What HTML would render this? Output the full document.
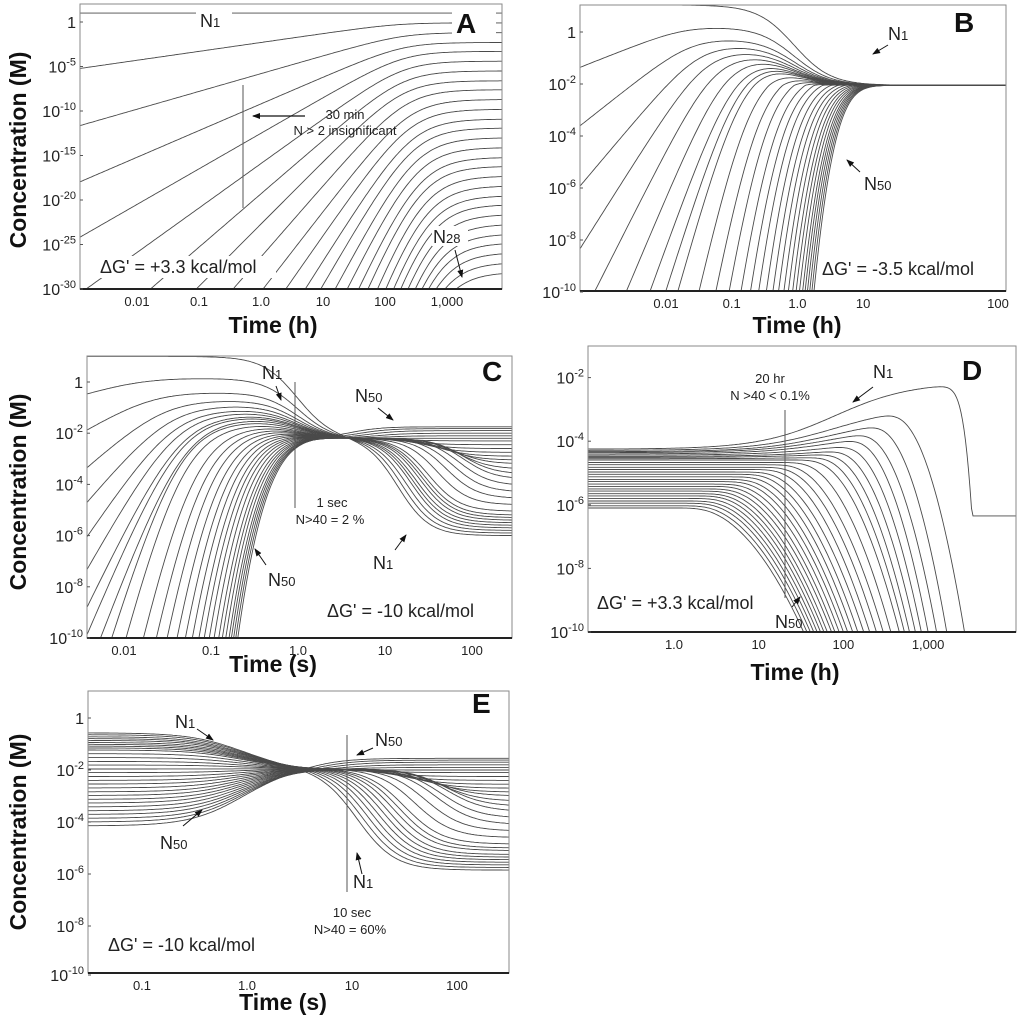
<!DOCTYPE html>
<html><head><meta charset="utf-8">
<style>
html,body{margin:0;padding:0;background:#fff;}
svg{display:block;font-family:"Liberation Sans",Arial,sans-serif;}
.tl{font-size:16px;fill:#222;}
.xl{font-size:13px;fill:#222;}
.ttl{font-size:23px;font-weight:bold;fill:#111;}
.ann{font-size:13px;fill:#222;}
.big{font-size:18px;fill:#222;}
.lt{font-size:28px;font-weight:bold;fill:#111;}
.nl{font-size:18px;fill:#222;}
</style></head>
<body>
<svg id="fig" width="1024" height="1024" viewBox="0 0 1024 1024" xmlns="http://www.w3.org/2000/svg">
<defs>
<marker id="ah" markerWidth="8" markerHeight="8" refX="7" refY="4" orient="auto" markerUnits="userSpaceOnUse"><path d="M0,1 L8,4 L0,7 Z" fill="#111"/></marker>
<clipPath id="clipA"><rect x="80" y="4" width="422" height="285"/></clipPath>
<clipPath id="clipB"><rect x="580" y="5" width="426" height="286"/></clipPath>
<clipPath id="clipC"><rect x="87" y="356" width="425" height="282"/></clipPath>
<clipPath id="clipD"><rect x="588" y="346" width="428" height="286"/></clipPath>
<clipPath id="clipE"><rect x="88" y="691" width="421" height="282"/></clipPath>
</defs>
<rect width="1024" height="1024" fill="#fff"/>
<g id="curvesA" clip-path="url(#clipA)"></g>
<g id="curvesB" clip-path="url(#clipB)"></g>
<g id="curvesC" clip-path="url(#clipC)"></g>
<g id="curvesD" clip-path="url(#clipD)"></g>
<g id="curvesE" clip-path="url(#clipE)"></g>
<g id="axes"></g>

<g>
<rect x="196" y="6" width="36" height="22" fill="#fff"/>
<text class="nl" x="200" y="27">N<tspan font-size="13">1</tspan></text>
<rect x="452" y="8" width="44" height="30" fill="#fff"/>
<text class="lt" x="456" y="33">A</text>
<line x1="243" y1="85" x2="243" y2="208" stroke="#555" stroke-width="1"/>
<line x1="305" y1="116" x2="253" y2="116" stroke="#111" stroke-width="1.2" marker-end="url(#ah)"/>
<text class="ann" x="345" y="119" text-anchor="middle">30 min</text>
<text class="ann" x="345" y="135" text-anchor="middle">N &gt; 2 insignificant</text>
<rect x="98" y="256" width="178" height="22" fill="#fff"/>
<text class="big" x="100" y="273">ΔG' = +3.3 kcal/mol</text>
<rect x="432" y="226" width="36" height="20" fill="#fff"/>
<text class="nl" x="433" y="243">N<tspan font-size="13">28</tspan></text>
<line x1="455" y1="250" x2="462" y2="277" stroke="#111" stroke-width="1" marker-end="url(#ah)"/>
<text class="ttl" x="273" y="333" text-anchor="middle">Time (h)</text>
<text class="ttl" transform="translate(26,150) rotate(-90)" text-anchor="middle">Concentration (M)</text>
</g>

<g>
<text class="lt" x="954" y="32">B</text>
<text class="nl" x="888" y="40">N<tspan font-size="13">1</tspan></text>
<line x1="888" y1="45" x2="873" y2="54" stroke="#111" stroke-width="1" marker-end="url(#ah)"/>
<text class="nl" x="864" y="190">N<tspan font-size="13">50</tspan></text>
<line x1="860" y1="172" x2="847" y2="160" stroke="#111" stroke-width="1" marker-end="url(#ah)"/>
<text class="big" x="822" y="275">ΔG' = -3.5 kcal/mol</text>
<text class="ttl" x="797" y="333" text-anchor="middle">Time (h)</text>
</g>

<g>
<text class="lt" x="482" y="381">C</text>
<text class="nl" x="262" y="379">N<tspan font-size="13">1</tspan></text>
<line x1="276" y1="386" x2="281" y2="400" stroke="#111" stroke-width="1" marker-end="url(#ah)"/>
<line x1="295" y1="382" x2="295" y2="508" stroke="#555" stroke-width="1"/>
<text class="ann" x="332" y="507" text-anchor="middle">1 sec</text>
<text class="ann" x="330" y="524" text-anchor="middle">N&gt;40 = 2 %</text>
<text class="nl" x="355" y="402">N<tspan font-size="13">50</tspan></text>
<line x1="378" y1="408" x2="393" y2="420" stroke="#111" stroke-width="1" marker-end="url(#ah)"/>
<text class="nl" x="373" y="569">N<tspan font-size="13">1</tspan></text>
<line x1="395" y1="550" x2="406" y2="535" stroke="#111" stroke-width="1" marker-end="url(#ah)"/>
<text class="nl" x="268" y="586">N<tspan font-size="13">50</tspan></text>
<line x1="266" y1="565" x2="255" y2="549" stroke="#111" stroke-width="1" marker-end="url(#ah)"/>
<text class="big" x="327" y="617">ΔG' = -10 kcal/mol</text>
<text class="ttl" x="273" y="672" text-anchor="middle">Time (s)</text>
<text class="ttl" transform="translate(26,492) rotate(-90)" text-anchor="middle">Concentration (M)</text>
</g>

<g>
<rect x="958" y="354" width="40" height="30" fill="#fff"/>
<text class="lt" x="962" y="380">D</text>
<text class="ann" x="770" y="383" text-anchor="middle">20 hr</text>
<text class="ann" x="770" y="400" text-anchor="middle">N &gt;40 &lt; 0.1%</text>
<line x1="785" y1="410" x2="785" y2="598" stroke="#555" stroke-width="1"/>
<text class="nl" x="873" y="378">N<tspan font-size="13">1</tspan></text>
<line x1="873" y1="387" x2="853" y2="402" stroke="#111" stroke-width="1" marker-end="url(#ah)"/>
<text class="big" x="597" y="609">ΔG' = +3.3 kcal/mol</text>
<text class="nl" x="775" y="628">N<tspan font-size="13">50</tspan></text>
<line x1="792" y1="607" x2="800" y2="597" stroke="#111" stroke-width="1" marker-end="url(#ah)"/>
<text class="ttl" x="795" y="680" text-anchor="middle">Time (h)</text>
</g>

<g>
<text class="lt" x="472" y="713">E</text>
<text class="nl" x="175" y="728">N<tspan font-size="13">1</tspan></text>
<line x1="197" y1="729" x2="213" y2="740" stroke="#111" stroke-width="1" marker-end="url(#ah)"/>
<text class="nl" x="160" y="849">N<tspan font-size="13">50</tspan></text>
<line x1="183" y1="826" x2="202" y2="810" stroke="#111" stroke-width="1" marker-end="url(#ah)"/>
<line x1="347" y1="735" x2="347" y2="892" stroke="#555" stroke-width="1"/>
<text class="nl" x="375" y="746">N<tspan font-size="13">50</tspan></text>
<line x1="373" y1="748" x2="357" y2="755" stroke="#111" stroke-width="1" marker-end="url(#ah)"/>
<text class="nl" x="353" y="888">N<tspan font-size="13">1</tspan></text>
<line x1="362" y1="874" x2="357" y2="853" stroke="#111" stroke-width="1" marker-end="url(#ah)"/>
<text class="ann" x="352" y="917" text-anchor="middle">10 sec</text>
<text class="ann" x="350" y="934" text-anchor="middle">N&gt;40 = 60%</text>
<text class="big" x="108" y="951">ΔG' = -10 kcal/mol</text>
<text class="ttl" x="283" y="1010" text-anchor="middle">Time (s)</text>
<text class="ttl" transform="translate(26,832) rotate(-90)" text-anchor="middle">Concentration (M)</text>
</g>
</svg>

<script>
// ---------- tick data ----------
const aYTicks = [0,-5,-10,-15,-20,-25,-30];
const aXTicks = [-2,-1,0,1,2,3];
const aXLabels = ['0.01','0.1','1.0','10','100','1,000'];
const bYTicks = [0,-2,-4,-6,-8,-10];
const bXTicks = [-2,-1,0,1];
const bXLabels = ['0.01','0.1','1.0','10'];
const cYTicks = [0,-2,-4,-6,-8,-10];
const cXTicks = [-2,-1,0,1,2];
const cXLabels = ['0.01','0.1','1.0','10','100'];
const dYTicks = [-2,-4,-6,-8,-10];
const dXTicks = [0,1,2,3];
const dXLabels = ['1.0','10','100','1,000'];
const eYTicks = [0,-2,-4,-6,-8,-10];
const eXTicks = [-1,0,1,2];
const eXLabels = ['0.1','1.0','10','100'];

// ---------- panel A series (log10 M) ----------
const aOrder = [1,2,3,4,5,6,7,8,9,10,11,12,13,14,15,16,17,18,19,20,21,22,23,24,25,26,27,28];
const aPlateau = [1.0,-0.1,-1.2,-2.3,-3.3,-4.4,-5.5,-6.6,-7.6,-8.7,-9.8,-10.9,-11.9,-13.0,-14.1,-15.2,-16.2,-17.3,-18.4,-19.5,-20.5,-21.6,-22.7,-23.8,-24.8,-25.9,-27.0,-28.1];
const aKnee = [2.3,2.2,2.3,2.3,2.3,2.3,2.3,2.3,2.35,2.4,2.42,2.45,2.47,2.5,2.52,2.55,2.57,2.6,2.62,2.64,2.66,2.68,2.7,2.71,2.72,2.73,2.74,2.75];

// ---------- panel B ----------
const bOrder = [1,2,3,4,5,6,7,8,9,10,12,14,16,18,20,22,24,26,28,30,32,34,36,38,40,42,44,46,48,50];
const bPeak = [1.04,0.2,-0.25,-0.5,-0.7,-0.85,-0.95,-1.05,-1.12,-1.2,-1.3,-1.4,-1.48,-1.55,-1.6,-1.65,-1.7,-1.74,-1.78,-1.82,-1.85,-1.88,-1.91,-1.94,-1.96,-1.98,-2.0,-2.02,-2.04,-2.05];
const bKnee = [-3,-1.75,-1.63,-1.5,-1.4,-1.26,-1.1,-0.97,-0.9,-0.85,-0.72,-0.6,-0.5,-0.4,-0.32,-0.25,-0.18,-0.12,-0.07,-0.02,0.02,0.06,0.09,0.12,0.15,0.17,0.19,0.21,0.23,0.25];
const bFinal = -2.05;

// ---------- panel C ----------
const cOrder = [1,2,3,4,5,6,7,8,9,10,12,14,16,18,20,22,24,26,28,30,32,34,36,38,40,42,44,46,48,50];
const cPeak = [1.0,0.15,-0.4,-0.7,-0.9,-1.05,-1.15,-1.25,-1.32,-1.4,-1.5,-1.6,-1.67,-1.73,-1.78,-1.83,-1.87,-1.91,-1.95,-1.98,-2.01,-2.04,-2.07,-2.1,-2.12,-2.14,-2.16,-2.18,-2.19,-2.2];
const cKnee = [-3,-1.83,-1.7,-1.55,-1.48,-1.43,-1.4,-1.35,-1.36,-1.32,-1.38,-1.35,-1.25,-1.18,-1.12,-1.06,-1.01,-0.97,-0.93,-0.9,-0.87,-0.84,-0.81,-0.79,-0.77,-0.75,-0.74,-0.73,-0.72,-0.71];
const cEnd = [-6.0,-5.9,-5.8,-5.7,-5.6,-5.5,-5.4,-5.3,-5.2,-5.05,-4.8,-4.55,-4.3,-4.05,-3.8,-3.6,-3.4,-3.2,-3.05,-2.9,-2.75,-2.6,-2.45,-2.3,-2.2,-2.1,-2.0,-1.9,-1.82,-1.75];
const cShift = [1.15,1.2,1.25,1.3,1.33,1.36,1.4,1.43,1.46,1.5,1.6,1.7,1.78,1.85,1.9,1.9,1.85,1.8,1.7,1.6,1.5,1.4,1.3,1.2,1.1,1.0,0.9,0.8,0.7,0.6];
const cCross = -2.2;

// ---------- panel D ----------
const dOrder = [1,2,3,4,5,6,7,8,9,10,12,14,16,18,20,22,24,26,28,30,32,34,36,38,40,42,44,46,48,50];
const dStart = [-4.25,-4.29,-4.33,-4.36,-4.4,-4.44,-4.48,-4.51,-4.55,-4.59,-4.67,-4.74,-4.82,-4.89,-4.97,-5.04,-5.12,-5.2,-5.27,-5.35,-5.42,-5.5,-5.57,-5.65,-5.72,-5.8,-5.88,-5.95,-6.03,-6.1];
const dPeak = [-2.15,-2.9,-3.25,-3.5,-3.7,-3.95,-4.15,-4.3,-4.45,-4.59,-4.67,-4.74,-4.82,-4.89,-4.97,-5.04,-5.12,-5.2,-5.27,-5.35,-5.42,-5.5,-5.57,-5.65,-5.72,-5.8,-5.88,-5.95,-6.03,-6.1];
const dOnset = [3.38,2.55,2.35,2.2,2.1,2.0,1.9,1.8,1.7,1.6,1.45,1.3,1.2,1.1,1.0,0.92,0.85,0.78,0.72,0.66,0.6,0.55,0.5,0.46,0.42,0.38,0.34,0.3,0.25,0.2];
const dBottom = [3.6,3.43,3.22,3.1,3.0,2.92,2.85,2.78,2.72,2.66,2.56,2.47,2.39,2.31,2.24,2.17,2.11,2.05,2.0,1.95,1.9,1.86,1.81,1.77,1.73,1.69,1.65,1.61,1.57,1.53];
const dFloor = [-6.35,-14,-14,-14,-14,-14,-14,-14,-14,-14,-14,-14,-14,-14,-14,-14,-14,-14,-14,-14,-14,-14,-14,-14,-14,-14,-14,-14,-14,-14];

// ---------- panel E ----------
const eOrder = [1,2,3,4,5,6,7,8,9,10,12,14,16,18,20,22,24,26,28,30,32,34,36,38,40,42,44,46,48,50];
const eStart = [-0.57,-0.64,-0.72,-0.79,-0.86,-0.94,-1.01,-1.08,-1.15,-1.23,-1.37,-1.52,-1.67,-1.81,-1.96,-2.1,-2.25,-2.4,-2.54,-2.69,-2.84,-2.98,-3.13,-3.27,-3.42,-3.57,-3.71,-3.86,-4.0,-4.15];
const eEnd = [-5.85,-5.75,-5.65,-5.55,-5.45,-5.35,-5.25,-5.1,-5.0,-4.85,-4.6,-4.35,-4.1,-3.85,-3.6,-3.4,-3.2,-3.0,-2.85,-2.7,-2.55,-2.4,-2.25,-2.1,-2.0,-1.9,-1.8,-1.7,-1.62,-1.55];
const eShift = [1.05,1.1,1.15,1.2,1.25,1.3,1.35,1.4,1.45,1.5,1.6,1.7,1.8,1.85,1.9,1.9,1.85,1.8,1.7,1.6,1.5,1.4,1.3,1.2,1.1,1.0,0.9,0.8,0.7,0.6];
const eCross = -1.95;

// ---------- helpers ----------
const NS = 'http://www.w3.org/2000/svg';
function sp(x,w){ const r=x/w; return r>30? x : w*Math.log1p(Math.exp(r)); }
function sig(x){ return 1/(1+Math.exp(-x)); }

const panels = {
  A:{x0:80,x1:502,y0:4,y1:289, xRef:-2,xPx:137,xs:62, yPx:22,ys:8.9},
  B:{x0:580,x1:1006,y0:5,y1:291, xRef:-2,xPx:666,xs:65.7, yPx:32,ys:26},
  C:{x0:87,x1:512,y0:356,y1:638, xRef:-2,xPx:124,xs:87, yPx:382,ys:25.6},
  D:{x0:588,x1:1016,y0:346,y1:632, xRef:0,xPx:674,xs:84.7, yPx:314,ys:31.8},
  E:{x0:88,x1:509,y0:691,y1:973, xRef:0,xPx:247,xs:105, yPx:718,ys:26}
};
function X(p,lt){ return p.xPx + (lt-p.xRef)*p.xs; }
function Y(p,lc){ return p.yPx - lc*p.ys; }
function invX(p,px){ return p.xRef + (px-p.xPx)/p.xs; }

function drawCurve(gid, p, fn){
  let d='';
  for(let px=p.x0-2; px<=p.x1+2; px+=1.5){
    const lt=invX(p,px);
    let y=Y(p,fn(lt));
    if(y>p.y1+30) y=p.y1+30;
    if(y<p.y0-30) y=p.y0-30;
    d += (d?'L':'M')+px.toFixed(1)+','+y.toFixed(1);
  }
  const path=document.createElementNS(NS,'path');
  path.setAttribute('d',d);
  path.setAttribute('fill','none');
  path.setAttribute('stroke','#4a4a4a');
  path.setAttribute('stroke-width','0.9');
  
  
  document.getElementById(gid).appendChild(path);
}

// Panel A
aOrder.forEach((n,i)=>{
  drawCurve('curvesA', panels.A, lt => aPlateau[i] - (n-1)*sp(aKnee[i]-lt,0.3));
});
// Panel B
bOrder.forEach((n,i)=>{
  drawCurve('curvesB', panels.B, lt => {
    const L = bPeak[i] - (n-1)*sp(bKnee[i]-lt,0.25);
    const dev = L-bFinal;
    const g = dev>0 ? 1/(1+Math.exp((lt+0.05)/0.28)) : 1/(1+Math.exp((lt-0.8)/0.2));
    return bFinal + dev*g;
  });
});
// Panel C
cOrder.forEach((n,i)=>{
  drawCurve('curvesC', panels.C, lt => {
    const L = cPeak[i] - (n-1)*sp(cKnee[i]-lt,0.25);
    const g = 1/(1+Math.exp((lt+0.01)/0.2));
    const post = (cEnd[i]-cCross)*sig((lt-cShift[i])/0.18);
    return cCross + (L-cCross)*g + post;
  });
});
// Panel D
dOrder.forEach((n,i)=>{
  const U = lt => dStart[i] + (dPeak[i]-dStart[i])*sig((lt-1.9)/0.45);
  const span = dBottom[i]-dOnset[i];
  const A = (U(dBottom[i])+10)/(span*span);
  drawCurve('curvesD', panels.D, lt => {
    const s = sp(lt-dOnset[i],0.1);
    const v = U(lt) - A*s*s;
    return dFloor[i] + sp(v-dFloor[i],0.12);
  });
});
// Panel E
eOrder.forEach((n,i)=>{
  drawCurve('curvesE', panels.E, lt => {
    const g = 1/(1+Math.exp((lt+0.05)/0.25));
    const post = (eEnd[i]-eCross)*sig((lt-eShift[i])/0.18);
    return eCross + (eStart[i]-eCross)*g + post;
  });
});

// ---------- axes ----------
const axes = document.getElementById('axes');
function yLabel(v){ return v===0 ? '1' : '10<tspan font-size="11" dy="-7">'+v+'</tspan>'; }
function buildAxes(key, yT, xT, xL){
  const p = panels[key];
  const box=document.createElementNS(NS,'rect');
  box.setAttribute('x',p.x0); box.setAttribute('y',p.y0);
  box.setAttribute('width',p.x1-p.x0); box.setAttribute('height',p.y1-p.y0);
  box.setAttribute('fill','none'); box.setAttribute('stroke','#8a8a8a'); box.setAttribute('stroke-width','1');
  
  
  axes.appendChild(box);
  const base=document.createElementNS(NS,'line');
  base.setAttribute('x1',p.x0); base.setAttribute('x2',p.x1);
  base.setAttribute('y1',p.y1); base.setAttribute('y2',p.y1);
  base.setAttribute('stroke','#222'); base.setAttribute('stroke-width','2');
  
  
  axes.appendChild(base);
  yT.forEach(v=>{
    const y=Math.min(Y(p,v), p.y1+2);
    const t=document.createElementNS(NS,'text');
    t.setAttribute('class','tl');
    t.setAttribute('x',p.x0-4); t.setAttribute('y',y+6);
    t.setAttribute('text-anchor','end');
    t.innerHTML=yLabel(v);
    
    
    axes.appendChild(t);
    const tk=document.createElementNS(NS,'line');
    tk.setAttribute('x1',p.x0); tk.setAttribute('x2',p.x0+3);
    tk.setAttribute('y1',y); tk.setAttribute('y2',y);
    tk.setAttribute('stroke','#555');
    
    
    axes.appendChild(tk);
  });
  xT.forEach((v,i)=>{
    const t=document.createElementNS(NS,'text');
    t.setAttribute('class','xl');
    t.setAttribute('x',X(p,v)); t.setAttribute('y',p.y1+17);
    t.setAttribute('text-anchor','middle');
    t.textContent=xL[i];
    
    
    axes.appendChild(t);
  });
}
buildAxes('A', aYTicks, aXTicks, aXLabels);
buildAxes('B', bYTicks, bXTicks, bXLabels);
buildAxes('C', cYTicks, cXTicks, cXLabels);
buildAxes('D', dYTicks, dXTicks, dXLabels);
buildAxes('E', eYTicks, eXTicks, eXLabels);
const b100=document.createElementNS(NS,'text');
b100.setAttribute('class','xl'); b100.setAttribute('x',998); b100.setAttribute('y',308);
b100.setAttribute('text-anchor','middle'); b100.textContent='100';


axes.appendChild(b100);
</script>
</body></html>
